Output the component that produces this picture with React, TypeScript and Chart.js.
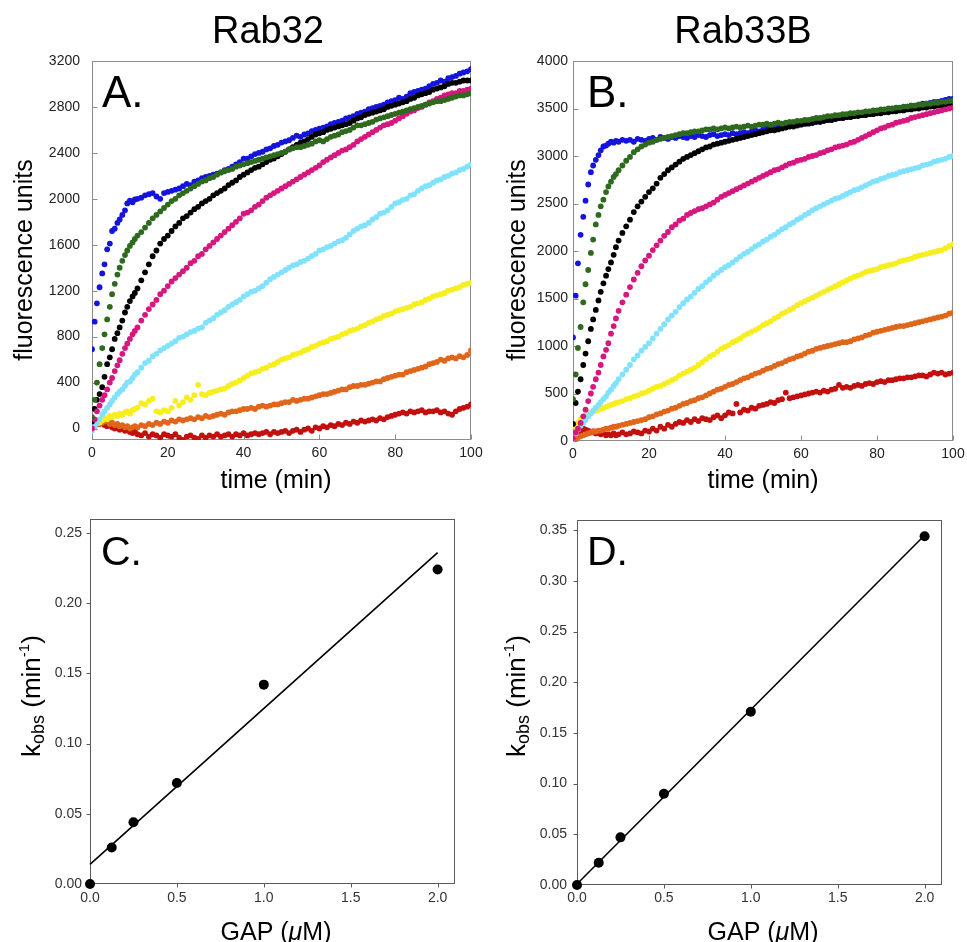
import React, { useEffect, useRef } from "react";
import { Chart, registerables } from "chart.js";
Chart.register(...registerables);

const FONT = '"Liberation Sans", Arial, Helvetica, sans-serif';

// ---------------- data: panels A & B (time course, min) ----------------
const TIME = [
  0, 0.7, 1.3, 2, 2.7, 3.3, 4, 4.7, 5.3, 6, 6.7, 7.3, 8, 8.7, 9.3, 10, 10.7, 11.3, 12,
  13, 14, 15, 16, 17, 18, 19, 20, 21, 22,
  23, 24, 25, 26, 27, 28, 29, 30, 31, 32,
  33, 34, 35, 36, 37, 38, 39, 40, 41, 42,
  43, 44, 45, 46, 47, 48, 49, 50, 51, 52,
  53, 54, 55, 56, 57, 58, 59, 60, 61, 62,
  63, 64, 65, 66, 67, 68, 69, 70, 71, 72,
  73, 74, 75, 76, 77, 78, 79, 80, 81, 82,
  83, 84, 85, 86, 87, 88, 89, 90, 91, 92,
  93, 94, 95, 96, 97, 98, 99, 100,
];

// Rab32 (panel A)
const A_GREEN = [
  100, 250, 400, 560, 700, 820, 950, 1060, 1170, 1260, 1340, 1400, 1460, 1510, 1550, 1590, 1620, 1650, 1680,
  1710, 1750, 1790, 1830, 1860, 1890, 1920, 1950, 1980, 2000,
  2030, 2050, 2070, 2090, 2110, 2130, 2150, 2160, 2180, 2190,
  2210, 2230, 2240, 2250, 2260, 2280, 2290, 2300, 2310, 2320,
  2330, 2340, 2350, 2360, 2370, 2380, 2390, 2400, 2410, 2430,
  2440, 2450, 2450, 2460, 2470, 2480, 2500, 2510, 2500, 2520,
  2540, 2550, 2560, 2580, 2590, 2600, 2620, 2640, 2640, 2650,
  2660, 2670, 2690, 2700, 2710, 2720, 2730, 2740, 2750, 2760,
  2770, 2780, 2790, 2800, 2810, 2820, 2830, 2840, 2850, 2850,
  2860, 2870, 2880, 2890, 2900, 2900, 2910, 2920,
];
const A_PINK = [
  0, 80, 150, 200, 250, 290, 340, 400, 440, 500, 550, 595, 650, 700, 740, 780, 820, 850, 880,
  940, 990, 1040, 1080, 1120, 1170, 1200, 1240, 1280, 1310,
  1340, 1370, 1400, 1440, 1460, 1500, 1520, 1560, 1590, 1620,
  1650, 1680, 1710, 1740, 1770, 1800, 1830, 1870, 1880, 1900,
  1930, 1950, 1980, 2010, 2030, 2050, 2070, 2090, 2110, 2130,
  2150, 2170, 2190, 2210, 2230, 2250, 2270, 2290, 2320, 2340,
  2360, 2380, 2400, 2420, 2430, 2450, 2470, 2500, 2520, 2540,
  2560, 2580, 2600, 2620, 2640, 2650, 2660, 2680, 2700, 2720,
  2740, 2760, 2770, 2790, 2800, 2820, 2840, 2850, 2870, 2880,
  2900, 2910, 2920, 2920, 2940, 2940, 2950, 2960,
];
const A_BLACK = [
  60, 170, 250, 300, 360, 450, 560, 620, 690, 780, 830, 880, 940, 1010, 1060, 1110, 1150, 1180, 1220,
  1290, 1360, 1430, 1500, 1550, 1610, 1650, 1680, 1720, 1760,
  1790, 1830, 1850, 1880, 1910, 1930, 1960, 1980, 2000, 2030,
  2050, 2070, 2090, 2120, 2140, 2160, 2190, 2210, 2230, 2250,
  2270, 2280, 2300, 2320, 2340, 2350, 2370, 2390, 2410, 2430,
  2450, 2470, 2490, 2500, 2520, 2540, 2560, 2570, 2580, 2600,
  2610, 2620, 2630, 2640, 2650, 2660, 2680, 2700, 2710, 2730,
  2740, 2750, 2760, 2770, 2780, 2800, 2810, 2820, 2830, 2840,
  2850, 2870, 2880, 2900, 2910, 2920, 2930, 2950, 2960, 2970,
  2980, 3000, 3010, 3010, 3020, 3030, 3030, 3030,
];
const A_BLUE = [
  690, 930, 1090, 1230, 1350, 1430, 1560, 1610, 1720, 1740, 1790, 1820, 1860, 1900, 1960, 1985, 1970, 1995, 2000,
  2010, 2030, 2040, 2050, 2020, 2000, 2050, 2060, 2070, 2080,
  2090, 2110, 2130, 2120, 2150, 2160, 2180, 2190, 2200, 2210,
  2220, 2230, 2250, 2260, 2280, 2300, 2320, 2350, 2350, 2370,
  2390, 2400, 2410, 2430, 2440, 2460, 2470, 2490, 2500, 2510,
  2530, 2550, 2540, 2560, 2570, 2590, 2600, 2610, 2620, 2630,
  2650, 2660, 2670, 2680, 2700, 2710, 2720, 2740, 2750, 2760,
  2780, 2790, 2800, 2810, 2820, 2840, 2850, 2860, 2880, 2870,
  2890, 2920, 2930, 2940, 2950, 2960, 2980, 3000, 3010, 3030,
  3020, 3050, 3060, 3070, 3090, 3100, 3110, 3130,
];
const A_CYAN = [
  -20, 20, 50, 80, 120, 150, 180, 210, 240, 270, 300, 320, 340, 370, 400, 410, 440, 470, 490,
  530, 570, 590, 630, 650, 680, 700, 720, 740, 760,
  790, 800, 820, 840, 850, 870, 880, 920, 940, 960,
  990, 1010, 1030, 1060, 1080, 1100, 1120, 1150, 1170, 1190,
  1200, 1220, 1240, 1270, 1300, 1320, 1340, 1360, 1380, 1400,
  1420, 1430, 1450, 1460, 1480, 1500, 1520, 1550, 1560, 1580,
  1590, 1610, 1630, 1640, 1660, 1690, 1720, 1740, 1760, 1770,
  1790, 1820, 1840, 1870, 1880, 1900, 1930, 1960, 1970, 1990,
  2000, 2030, 2040, 2070, 2090, 2110, 2120, 2140, 2160, 2170,
  2190, 2200, 2220, 2230, 2250, 2260, 2280, 2300,
];
const A_YELLOW = [
  10, 30, 60, 50, 70, 90, 80, 110, 100, 120, 110, 130, 120, 140, 150, 130, 160, 170, 180,
  220, 210, 240, 260, 150, 140, 160, 150, 180, 240,
  200, 230, 270, 250, 290, 380, 300, 290, 310, 320,
  330, 340, 350, 370, 390, 400, 420, 440, 460, 480,
  490, 500, 520, 530, 550, 560, 580, 600, 610, 620,
  640, 650, 660, 680, 690, 710, 720, 740, 750, 760,
  780, 790, 800, 820, 830, 850, 860, 870, 890, 900,
  920, 930, 950, 960, 980, 990, 1000, 1020, 1030, 1040,
  1050, 1060, 1080, 1090, 1100, 1120, 1130, 1150, 1160, 1170,
  1180, 1200, 1210, 1220, 1230, 1250, 1260, 1270,
];
const A_ORANGE = [
  0, 20, 40, 60, 50, 70, 60, 40, 50, 30, 40, 20, 30, 10, 20, 0, 10, 20, 10,
  30, 20, 40, 30, 50, 40, 60, 50, 70, 60,
  80, 70, 80, 90, 80, 100, 90, 110, 100, 110,
  120, 130, 120, 140, 150, 150, 160, 170, 170, 180,
  170, 190, 200, 190, 200, 210, 210, 220, 230, 230,
  250, 240, 250, 260, 260, 270, 280, 290, 300, 300,
  310, 320, 330, 340, 340, 360, 370, 370, 380, 380,
  390, 400, 410, 410, 430, 440, 450, 460, 470, 470,
  490, 500, 510, 520, 530, 540, 560, 570, 580, 600,
  590, 610, 620, 610, 630, 620, 640, 680,
];
const A_RED = [
  0, 30, 60, 40, 50, 30, 20, 40, 10, 0, 20, -10, 0, -20, -10, -30, -40, -20, -50,
  -60, -40, -70, -50, -60, -80, -50, -60, -70, -50,
  -80, -100, -70, -60, -80, -90, -60, -80, -60, -70,
  -50, -70, -60, -50, -70, -50, -60, -40, -60, -50,
  -40, -50, -40, -30, -50, -30, -40, -30, -20, -40,
  -20, -10, -30, -10, 0, -20, 10, 0, 20, 10,
  30, 20, 40, 30, 50, 40, 60, 50, 70, 60,
  70, 80, 70, 90, 80, 100, 110, 120, 130, 140,
  130, 150, 140, 150, 160, 140, 150, 150, 160, 140,
  150, 130, 120, 150, 170, 180, 190, 210,
];

// Rab33B (panel B)
const B_GREEN = [
  440, 700, 980, 1200, 1460, 1650, 1800, 1980, 2120, 2280, 2380, 2470, 2540, 2620, 2680, 2730, 2780, 2810, 2850,
  2900, 2950, 2990, 3040, 3070, 3100, 3120, 3140, 3150, 3170,
  3180, 3190, 3200, 3210, 3220, 3230, 3240, 3240, 3250, 3260,
  3260, 3270, 3280, 3280, 3290, 3280, 3290, 3300, 3290, 3300,
  3310, 3300, 3310, 3320, 3310, 3320, 3330, 3330, 3340, 3330,
  3340, 3350, 3340, 3350, 3360, 3360, 3370, 3370, 3380, 3380,
  3390, 3400, 3400, 3410, 3420, 3420, 3430, 3430, 3440, 3440,
  3450, 3450, 3460, 3460, 3470, 3470, 3480, 3480, 3490, 3490,
  3500, 3500, 3510, 3510, 3520, 3520, 3530, 3530, 3540, 3540,
  3550, 3550, 3560, 3560, 3570, 3570, 3580, 3580,
];
const B_PINK = [
  30, 90, 130, 190, 260, 330, 420, 500, 570, 650, 720, 800, 890, 960, 1030, 1130, 1210, 1290, 1370,
  1460, 1540, 1620, 1700, 1770, 1840, 1900, 1950, 2010, 2060,
  2110, 2160, 2200, 2250, 2280, 2320, 2340, 2380, 2400, 2420,
  2440, 2450, 2470, 2490, 2510, 2540, 2570, 2590, 2610, 2630,
  2650, 2670, 2690, 2710, 2730, 2750, 2770, 2790, 2810, 2830,
  2850, 2860, 2880, 2900, 2920, 2930, 2950, 2960, 2970, 2990,
  3000, 3010, 3030, 3040, 3060, 3070, 3090, 3100, 3110, 3120,
  3140, 3150, 3170, 3190, 3210, 3230, 3250, 3270, 3290, 3300,
  3320, 3330, 3350, 3360, 3370, 3380, 3400, 3410, 3420, 3430,
  3440, 3450, 3460, 3470, 3480, 3490, 3500, 3510,
];
const B_BLACK = [
  180, 400, 520, 650, 800, 920, 1050, 1180, 1280, 1380, 1480, 1570, 1660, 1740, 1810, 1880, 1960, 2040, 2110,
  2190, 2260, 2330, 2410, 2470, 2520, 2570, 2620, 2660, 2710,
  2770, 2810, 2850, 2880, 2910, 2940, 2970, 2990, 3010, 3030,
  3050, 3070, 3090, 3100, 3120, 3130, 3140, 3150, 3160, 3170,
  3180, 3190, 3200, 3210, 3220, 3230, 3240, 3250, 3260, 3270,
  3270, 3280, 3290, 3300, 3310, 3310, 3320, 3330, 3340, 3340,
  3350, 3360, 3360, 3370, 3380, 3380, 3390, 3400, 3400, 3410,
  3410, 3420, 3420, 3430, 3430, 3440, 3440, 3450, 3450, 3460,
  3460, 3470, 3470, 3480, 3480, 3490, 3490, 3500, 3500, 3510,
  3510, 3520, 3520, 3530, 3530, 3540, 3540, 3550,
];
const B_BLUE = [
  1090, 1530, 1870, 2170, 2360, 2530, 2700, 2830, 2900, 2960, 3010, 3060, 3100, 3110, 3130, 3150, 3140, 3160, 3150,
  3170, 3160, 3170, 3150, 3180, 3170, 3160, 3180, 3190, 3170,
  3200, 3190, 3180, 3200, 3190, 3210, 3200, 3190, 3210, 3200,
  3220, 3210, 3200, 3220, 3230, 3210, 3220, 3230, 3220, 3240,
  3230, 3240, 3250, 3240, 3260, 3270, 3260, 3280, 3290, 3290,
  3300, 3300, 3310, 3310, 3320, 3330, 3330, 3340, 3340, 3350,
  3350, 3360, 3360, 3370, 3380, 3380, 3390, 3400, 3400, 3410,
  3410, 3420, 3430, 3430, 3440, 3450, 3450, 3460, 3470, 3470,
  3480, 3490, 3500, 3500, 3510, 3520, 3530, 3530, 3540, 3550,
  3550, 3560, 3570, 3570, 3580, 3590, 3600, 3600,
];
const B_CYAN = [
  40, 80, 120, 160, 190, 220, 260, 290, 320, 350, 380, 410, 440, 470, 510, 540, 580, 610, 650,
  700, 750, 800, 860, 900, 950, 990, 1030, 1080, 1130,
  1180, 1230, 1280, 1320, 1360, 1410, 1450, 1490, 1520, 1560,
  1600, 1630, 1670, 1700, 1740, 1770, 1800, 1830, 1850, 1880,
  1910, 1940, 1970, 1990, 2020, 2050, 2070, 2100, 2120, 2150,
  2170, 2200, 2230, 2250, 2280, 2300, 2330, 2350, 2380, 2400,
  2430, 2450, 2470, 2490, 2510, 2530, 2550, 2560, 2580, 2600,
  2620, 2640, 2650, 2670, 2690, 2710, 2730, 2740, 2760, 2770,
  2790, 2800, 2810, 2830, 2840, 2850, 2860, 2870, 2880, 2900,
  2910, 2920, 2940, 2950, 2960, 2970, 2990, 3000,
];
const B_YELLOW = [
  80, 150, 190, 230, 250, 270, 280, 300, 310, 320, 330, 340, 350, 360, 370, 380, 390, 400, 410,
  420, 440, 450, 470, 480, 500, 510, 530, 550, 570,
  580, 600, 620, 640, 660, 690, 710, 730, 750, 770,
  800, 830, 860, 890, 910, 940, 970, 990, 1010, 1040,
  1060, 1080, 1110, 1130, 1150, 1170, 1190, 1220, 1240, 1260,
  1290, 1310, 1340, 1360, 1380, 1400, 1430, 1450, 1470, 1490,
  1510, 1530, 1550, 1570, 1590, 1610, 1630, 1650, 1670, 1690,
  1710, 1730, 1740, 1760, 1780, 1790, 1800, 1810, 1830, 1840,
  1850, 1860, 1870, 1890, 1900, 1910, 1920, 1940, 1950, 1960,
  1970, 1980, 1990, 2000, 2010, 2030, 2050, 2070,
];
const B_ORANGE = [
  0, 20, 40, 50, 60, 70, 80, 90, 100, 100, 110, 110, 120, 130, 130, 140, 150, 150, 160,
  170, 180, 190, 200, 210, 220, 230, 250, 260, 280,
  290, 310, 320, 340, 350, 370, 390, 400, 420, 430,
  450, 460, 480, 500, 520, 540, 550, 570, 590, 600,
  620, 640, 660, 670, 690, 710, 720, 740, 760, 770,
  790, 810, 820, 840, 860, 870, 890, 900, 920, 940,
  950, 970, 980, 990, 1000, 1010, 1020, 1030, 1040, 1040,
  1050, 1070, 1080, 1090, 1110, 1120, 1140, 1150, 1160, 1170,
  1180, 1190, 1200, 1210, 1210, 1220, 1230, 1240, 1250, 1260,
  1270, 1280, 1290, 1300, 1310, 1320, 1340, 1350,
];
const B_RED = [
  10, 40, 70, 100, 130, 120, 110, 90, 100, 80, 90, 70, 80, 60, 70, 60, 80, 60, 70,
  90, 70, 80, 100, 90, 80, 110, 100, 130, 110,
  150, 130, 170, 150, 180, 200, 190, 220, 200, 230,
  210, 240, 230, 220, 250, 270, 240, 270, 300, 290,
  390, 300, 330, 320, 350, 340, 370, 380, 390, 410,
  400, 430, 440, 510, 450, 460, 470, 480, 490, 500,
  510, 520, 510, 530, 520, 540, 550, 590, 560, 570,
  560, 580, 590, 580, 600, 610, 600, 620, 630, 620,
  640, 640, 650, 660, 660, 670, 670, 680, 690, 690,
  680, 700, 720, 710, 720, 700, 710, 720,
];

const KIN_X_TICKS = [0, 20, 40, 60, 80, 100];
const A_Y_TICKS = [0, 400, 800, 1200, 1600, 2000, 2400, 2800, 3200];
const B_Y_TICKS = [0, 500, 1000, 1500, 2000, 2500, 3000, 3500, 4000];

// ---------------- data: panels C & D (k_obs vs GAP) ----------------
const GAP_UM = [0, 0.125, 0.25, 0.5, 1.0, 2.0];
const C_KOBS = [0, 0.026, 0.044, 0.072, 0.142, 0.224];
const D_KOBS = [0, 0.022, 0.047, 0.09, 0.171, 0.344];
const FIT_X = [0, 2.0];
const C_FIT = [0.014, 0.236];
const D_FIT = [0.001, 0.345];
const RATE_X_TICKS = [0, 0.5, 1.0, 1.5, 2.0];
const C_Y_TICKS = [0, 0.05, 0.1, 0.15, 0.2, 0.25];
const D_Y_TICKS = [0, 0.05, 0.1, 0.15, 0.2, 0.25, 0.3, 0.35];

// ---------------- styles ----------------
const COLORS = {
  green: "#2e6a1e",
  pink: "#d6177f",
  black: "#000000",
  blue: "#1414dc",
  cyan: "#80e2fc",
  yellow: "#f7ee20",
  orange: "#e0661b",
  red: "#c2100f",
};

type Box = { l: number; t: number; r: number; b: number };

function makeOverlay(spec: any) {
  return {
    id: "overlay",
    beforeDatasetsDraw(chart: any) {
      const { ctx, chartArea: a, scales } = chart;
      ctx.save();
      ctx.strokeStyle = spec.frameColor;
      ctx.lineWidth = 1;
      const L = Math.round(a.left) + 0.5;
      const T = Math.round(a.top) + 0.5;
      const R = Math.round(a.right) - 0.5;
      const B = Math.round(a.bottom) - 0.5;
      ctx.strokeRect(L, T, R - L, B - T);
      ctx.beginPath();
      const len = spec.tickLen;
      const dir = spec.inward ? 1 : -1;
      for (const v of spec.yTicks) {
        const y = Math.round(scales.y.getPixelForValue(v)) + 0.5;
        ctx.moveTo(L, y);
        ctx.lineTo(L + dir * len, y);
      }
      for (const v of spec.xTicks) {
        const x = Math.round(scales.x.getPixelForValue(v)) + 0.5;
        ctx.moveTo(x, B);
        ctx.lineTo(x, B - dir * len);
      }
      ctx.stroke();
      ctx.restore();
    },
    afterDraw(chart: any) {
      const ctx = chart.ctx;
      ctx.save();
      ctx.translate(-spec.ox, -spec.oy);
      ctx.fillStyle = "#000";
      ctx.textBaseline = "alphabetic";
      if (spec.title) {
        ctx.font = `38px ${FONT}`;
        ctx.textAlign = "center";
        ctx.fillText(spec.title.text, spec.title.x, spec.title.y);
      }
      // panel letter
      ctx.font = `${spec.letter.size}px ${FONT}`;
      ctx.textAlign = "left";
      ctx.fillText(spec.letter.text, spec.letter.x, spec.letter.y);
      // x title
      ctx.textAlign = "left";
      const xt = spec.xTitle;
      let total = 0;
      const widths: number[] = [];
      for (const part of xt.parts) {
        ctx.font = `${part.italic ? "italic " : ""}25px ${FONT}`;
        const w = ctx.measureText(part.text).width;
        widths.push(w);
        total += w;
      }
      let cx = xt.x - total / 2;
      xt.parts.forEach((part: any, i: number) => {
        ctx.font = `${part.italic ? "italic " : ""}25px ${FONT}`;
        ctx.fillText(part.text, cx, xt.y);
        cx += widths[i];
      });
      // y title (rotated)
      const yt = spec.yTitle;
      ctx.save();
      ctx.translate(yt.x, yt.y);
      ctx.rotate(-Math.PI / 2);
      if (yt.parts) {
        let total2 = 0;
        const w2: number[] = [];
        for (const p of yt.parts) {
          ctx.font = `${p.size}px ${FONT}`;
          const w = ctx.measureText(p.text).width;
          w2.push(w);
          total2 += w;
        }
        let px = yt.anchor === "center" ? -total2 / 2 : 0;
        yt.parts.forEach((p: any, i: number) => {
          ctx.font = `${p.size}px ${FONT}`;
          ctx.fillText(p.text, px, p.dy);
          px += w2[i];
        });
      }
      ctx.restore();
      ctx.restore();
    },
  };
}

function kineticConfig(spec: any) {
  const datasets = spec.series.map((s: any) => ({
    data: TIME.slice(0, s.values.length).map((t, i) => ({ x: t, y: s.values[i] })),
    backgroundColor: s.color,
    borderColor: s.color,
    borderWidth: 0,
    pointRadius: 2.9,
    pointHoverRadius: 2.9,
    showLine: false,
  }));
  return baseConfig(spec, datasets, (v: number) => String(v), (v: number) => String(v), 14, "#222");
}

function rateConfig(spec: any) {
  const datasets = [
    {
      data: GAP_UM.map((x, i) => ({ x, y: spec.points[i] })),
      backgroundColor: "#000",
      borderColor: "#000",
      borderWidth: 0,
      pointRadius: 5,
      pointHoverRadius: 5,
      showLine: false,
      clip: false,
    },
    {
      data: FIT_X.map((x, i) => ({ x, y: spec.fit[i] })),
      borderColor: "#000",
      backgroundColor: "#000",
      borderWidth: 1.6,
      pointRadius: 0,
      showLine: true,
      fill: false,
      clip: false,
    },
  ];
  return baseConfig(
    spec,
    datasets,
    (v: number) => Number(v).toFixed(1),
    (v: number) => Number(v).toFixed(2),
    14,
    "#333"
  );
}

function baseConfig(spec: any, datasets: any[], xFmt: any, yFmt: any, tickSize: number, tickColor: string) {
  const { ox, oy, w, h, area } = spec;
  return {
    type: "scatter",
    data: { datasets },
    options: {
      responsive: false,
      animation: false,
      events: [],
      layout: { padding: { left: 0, top: area.t - oy, right: ox + w - area.r, bottom: 0 } },
      plugins: { legend: { display: false }, tooltip: { enabled: false }, title: { display: false } },
      scales: {
        x: {
          type: "linear",
          min: spec.xMin,
          max: spec.xMax,
          grid: { display: false, drawTicks: false },
          border: { display: false },
          ticks: {
            font: { family: FONT, size: tickSize },
            color: tickColor,
            padding: spec.xPad,
            maxRotation: 0,
            autoSkip: false,
            callback: xFmt,
          },
          afterBuildTicks: (s: any) => {
            s.ticks = spec.xTicks.map((v: number) => ({ value: v }));
          },
          afterFit: (s: any) => {
            s.height = oy + h - area.b;
            s.paddingLeft = 0;
            s.paddingRight = 0;
          },
        },
        y: {
          type: "linear",
          min: spec.yMin,
          max: spec.yMax,
          grid: { display: false, drawTicks: false },
          border: { display: false },
          ticks: {
            font: { family: FONT, size: tickSize },
            color: tickColor,
            padding: spec.yPad,
            autoSkip: false,
            callback: yFmt,
          },
          afterBuildTicks: (s: any) => {
            s.ticks = spec.yTicks.map((v: number) => ({ value: v }));
          },
          afterFit: (s: any) => {
            s.width = area.l - ox;
            s.paddingTop = 0;
            s.paddingBottom = 0;
          },
        },
      },
    },
    plugins: [makeOverlay(spec)],
  };
}

const kinSeries = (g: number[], p: number[], k: number[], b: number[], c: number[], y: number[], o: number[], r: number[]) => [
  { color: COLORS.green, values: g },
  { color: COLORS.pink, values: p },
  { color: COLORS.black, values: k },
  { color: COLORS.blue, values: b },
  { color: COLORS.cyan, values: c },
  { color: COLORS.yellow, values: y },
  { color: COLORS.orange, values: o },
  { color: COLORS.red, values: r },
];

const KOBS_TITLE = (x: number) => ({
  x,
  y: 757,
  anchor: "start",
  parts: [
    { text: "k", size: 26, dy: 0 },
    { text: "obs", size: 18, dy: 4 },
    { text: " (min", size: 26, dy: 0 },
    { text: "-1", size: 15, dy: -11 },
    { text: ")", size: 26, dy: 0 },
  ],
});

const PANELS = [
  {
    kind: "kin",
    ox: 0, oy: 0, w: 483, h: 500,
    area: { l: 92, t: 61, r: 471, b: 440 } as Box,
    xMin: 0, xMax: 100, yMin: -100, yMax: 3200,
    xTicks: KIN_X_TICKS, yTicks: A_Y_TICKS,
    xPad: 5, yPad: 12,
    inward: true, tickLen: 5, frameColor: "#8c8c8c",
    title: { text: "Rab32", x: 268, y: 43 },
    letter: { text: "A.", x: 102, y: 107, size: 44 },
    xTitle: { x: 276, y: 488, parts: [{ text: "time (min)" }] },
    yTitle: { x: 32, y: 260, anchor: "center", parts: [{ text: "fluorescence units", size: 25, dy: 0 }] },
    series: kinSeries(A_GREEN, A_PINK, A_BLACK, A_BLUE, A_CYAN, A_YELLOW, A_ORANGE, A_RED),
  },
  {
    kind: "kin",
    ox: 483, oy: 0, w: 484, h: 500,
    area: { l: 573, t: 61, r: 953, b: 441 } as Box,
    xMin: 0, xMax: 100, yMin: 0, yMax: 4000,
    xTicks: KIN_X_TICKS, yTicks: B_Y_TICKS,
    xPad: 5, yPad: 5,
    inward: true, tickLen: 5, frameColor: "#8c8c8c",
    title: { text: "Rab33B", x: 743, y: 43 },
    letter: { text: "B.", x: 587, y: 107, size: 44 },
    xTitle: { x: 763, y: 488, parts: [{ text: "time (min)" }] },
    yTitle: { x: 525, y: 260, anchor: "center", parts: [{ text: "fluorescence units", size: 25, dy: 0 }] },
    series: kinSeries(B_GREEN, B_PINK, B_BLACK, B_BLUE, B_CYAN, B_YELLOW, B_ORANGE, B_RED),
  },
  {
    kind: "rate",
    ox: 0, oy: 500, w: 483, h: 442,
    area: { l: 90, t: 519, r: 455, b: 884 } as Box,
    xMin: 0, xMax: 2.1, yMin: 0, yMax: 0.26,
    xTicks: RATE_X_TICKS, yTicks: C_Y_TICKS,
    xPad: 6, yPad: 8,
    inward: false, tickLen: 4, frameColor: "#5a5a5a",
    letter: { text: "C.", x: 101, y: 565, size: 41 },
    xTitle: { x: 276, y: 940, parts: [{ text: "GAP (" }, { text: "\u03bc", italic: true }, { text: "M)" }] },
    yTitle: KOBS_TITLE(40),
    points: C_KOBS, fit: C_FIT,
  },
  {
    kind: "rate",
    ox: 483, oy: 500, w: 484, h: 442,
    area: { l: 577, t: 520, r: 942, b: 885 } as Box,
    xMin: 0, xMax: 2.1, yMin: 0, yMax: 0.36,
    xTicks: RATE_X_TICKS, yTicks: D_Y_TICKS,
    xPad: 5, yPad: 10,
    inward: false, tickLen: 4, frameColor: "#5a5a5a",
    letter: { text: "D.", x: 587, y: 565, size: 41 },
    xTitle: { x: 763, y: 940, parts: [{ text: "GAP (" }, { text: "\u03bc", italic: true }, { text: "M)" }] },
    yTitle: KOBS_TITLE(525),
    points: D_KOBS, fit: D_FIT,
  },
];

function Panel({ spec }: { spec: any }) {
  const ref = useRef<HTMLCanvasElement>(null);
  useEffect(() => {
    const cfg: any = spec.kind === "kin" ? kineticConfig(spec) : rateConfig(spec);
    const chart = new Chart(ref.current as HTMLCanvasElement, cfg);
    return () => chart.destroy();
  }, [spec]);
  return (
    <canvas
      ref={ref}
      width={spec.w}
      height={spec.h}
      style={{ position: "absolute", left: spec.ox, top: spec.oy, width: spec.w, height: spec.h }}
    />
  );
}

export default function App() {
  return (
    <div
      style={{
        position: "absolute",
        left: 0,
        top: 0,
        width: 967,
        height: 942,
        overflow: "hidden",
        background: "#fff",
      }}
    >
      {PANELS.map((p, i) => (
        <Panel key={i} spec={p} />
      ))}
    </div>
  );
}
